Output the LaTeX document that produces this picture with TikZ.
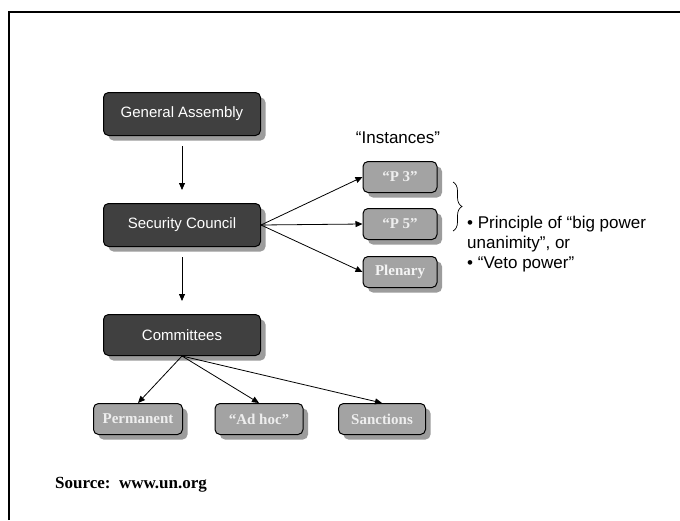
\documentclass[tikz,border=0pt]{standalone}
\usepackage{fontspec}
\setmainfont{Liberation Serif}
\setsansfont{Liberation Sans}
\usetikzlibrary{arrows.meta,shadows,decorations.pathreplacing}
\definecolor{darkbox}{HTML}{404040}
\definecolor{lightbox}{HTML}{A3A3A3}
\definecolor{shadowgray}{HTML}{9C9C9C}
\definecolor{lighttext}{HTML}{EEEEEE}
\tikzset{
  darknode/.style={draw=black, line width=1pt, fill=darkbox, rounded corners=5pt,
    minimum width=157pt, minimum height=43pt, text=white,
    font=\sffamily\fontsize{15}{18}\selectfont,
    general shadow={fill=shadowgray, shadow xshift=5pt, shadow yshift=-5pt}},
  lightnode/.style={draw=black, line width=1pt, fill=lightbox, rounded corners=5pt,
    minimum height=31pt, text=lighttext,
    font=\rmfamily\bfseries\fontsize{15}{18}\selectfont,
    general shadow={fill=shadowgray, shadow xshift=5pt, shadow yshift=-5pt}},
  arr/.style={-{Triangle[length=7pt,width=6pt]}, line width=0.8pt},
  plain/.style={font=\sffamily\fontsize{17}{20}\selectfont, inner sep=0pt}
}
\begin{document}
\begin{tikzpicture}[x=1pt,y=-1pt]
\useasboundingbox (0,0) rectangle (680,520);
\fill[white] (0,0) rectangle (680,520);
% frame
\draw[line width=2pt] (9,520) -- (9,12) -- (681,12);

% main column
\node[darknode] (ga) at (182,114) {General Assembly};
\node[darknode] (sc) at (182,225) {Security Council};
\node[darknode, minimum height=41pt] (com) at (182,335) {Committees};

% instances
\node[lightnode, minimum width=74pt] (p3) at (400,177) {“P 3”};
\node[lightnode, minimum width=74pt] (p5) at (400,224) {“P 5”};
\node[lightnode, minimum width=74pt, text=white!88!lightbox] (plen) at (400,272) {Plenary};
\node[plain, anchor=base] (inst) at (398,143) {“Instances”};

% committees
\node[lightnode, minimum width=89pt] (perm) at (138,419) {Permanent};
\node[lightnode, minimum width=88pt] (adhoc) at (259,419) {“Ad hoc”};
\node[lightnode, minimum width=87pt] (sanc) at (382,419) {Sanctions};

% arrows
\draw[arr, shorten <=10pt, shorten >=13pt] (ga.south) -- (sc.north);
\draw[arr, shorten <=10pt, shorten >=13pt] (sc.south) -- (com.north);
\draw[arr] (sc.east) -- (p3.west);
\draw[arr] (sc.east) -- (p5.west);
\draw[arr] (sc.east) -- (plen.west);
\draw[arr] (com.south) -- (perm.north);
\draw[arr] (com.south) -- (adhoc.north);
\draw[arr] (com.south) -- (sanc.north);

% brace and note
\coordinate (bt) at (453,182);
\coordinate (bb) at (453,231);
\draw[line width=0.7pt, decorate, decoration={brace, amplitude=9pt}] (bt) -- (bb);
\node[plain, anchor=base west, align=left] (note) at (467,268)
  {• Principle of “big power\\unanimity”, or\\• “Veto power”};

% source
\node[font=\rmfamily\bfseries\fontsize{17}{20}\selectfont, anchor=base west, inner sep=0pt] (src) at (55,488) {Source:~~www.un.org};
\end{tikzpicture}
\end{document}
